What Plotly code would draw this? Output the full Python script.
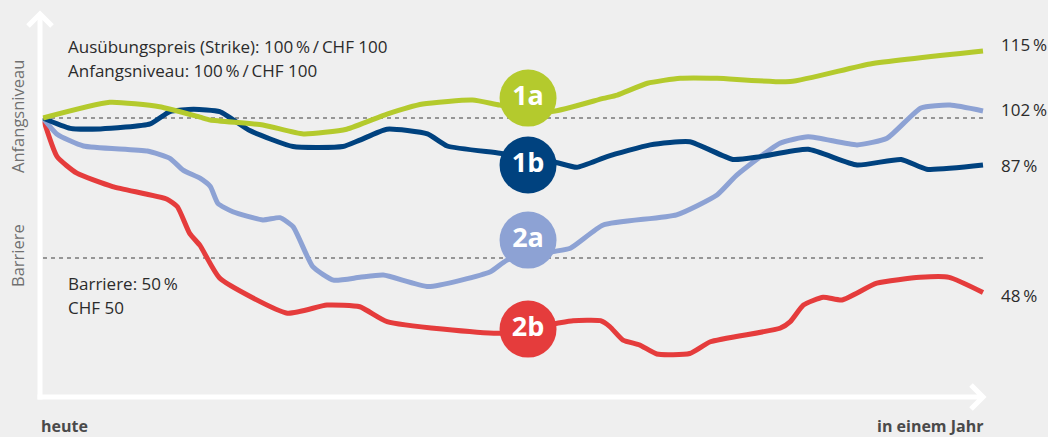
import plotly.graph_objects as go

# time in % of one year (0 = heute, 100 = in einem Jahr), level in % of Anfangsniveau (as drawn)
t_1a = [0, 7.1, 12.4, 16.7, 17.8, 23.4, 27.7, 32.3, 36.6, 40.4, 45.7, 48.6, 54.1, 59.6, 61.1, 64.3, 67.8, 71.7, 79.5, 88.0, 100]
v_1a = [100, 105.6, 104.0, 100.3, 99.3, 97.5, 94.3, 96.0, 101.4, 105.0, 106.4, 104.6, 102.3, 107.0, 108.2, 112.4, 114.2, 114.2, 113.0, 119.3, 123.9]

t_1b = [0, 2.9, 6.1, 11.4, 13.5, 16.0, 18.8, 22.0, 26.6, 31.9, 33.7, 36.6, 40.9, 43.0, 48.6, 54.3, 56.8, 60.0, 64.6, 68.8, 73.4, 76.3, 81.4, 86.6, 91.3, 94.0, 100]
v_1b = [100, 96.3, 96.1, 97.9, 102.3, 103.1, 102.3, 95.5, 89.8, 89.8, 92.1, 96.0, 94.3, 90.0, 87.4, 84.4, 82.4, 86.2, 90.4, 91.5, 85.2, 86.2, 88.8, 83.2, 85.2, 81.7, 83.2]

t_2a = [0, 1.5, 4.3, 11.1, 13.5, 14.9, 16.7, 17.8, 18.6, 20.2, 23.4, 25.2, 26.6, 28.7, 30.9, 33.7, 36.2, 41.0, 47.6, 49.4, 54.3, 56.1, 59.6, 67.4, 71.7, 73.8, 78.4, 81.4, 86.6, 89.8, 93.4, 96.5, 100]
v_2a = [100, 94.2, 90.0, 88.2, 85.6, 81.4, 78.5, 75.5, 69.5, 66.5, 63.6, 64.4, 61.2, 46.9, 42.1, 43.1, 43.9, 39.8, 45.1, 49.3, 52.3, 53.5, 61.8, 65.4, 72.5, 79.6, 91.0, 93.3, 90.4, 92.8, 103.6, 104.6, 102.5]

t_2b = [0, 1.5, 3.6, 7.4, 13.2, 14.3, 15.6, 16.7, 18.8, 26.0, 30.2, 33.7, 36.6, 48.6, 54.7, 56.4, 59.3, 60.3, 61.7, 63.5, 65.3, 68.8, 71.0, 78.4, 79.5, 80.9, 83.0, 85.0, 88.7, 93.3, 96.4, 100]
v_2b = [100, 86.2, 80.3, 75.5, 71.0, 68.3, 58.8, 54.5, 42.8, 30.3, 33.2, 32.6, 27.3, 23.1, 26.7, 27.6, 27.6, 25.5, 20.7, 18.9, 15.7, 15.9, 20.1, 24.9, 27.3, 33.2, 36.0, 35.0, 41.0, 43.1, 43.1, 37.7]

series_names = ["1a", "1b", "2a", "2b"]
end_labels = ["115 %", "87 %", "102 %", "48 %"]
strike_level = 100
barrier_level = 50

# label badges (position on the chart)
badge_t = [51.6, 51.6, 51.6, 51.6]
badge_v = [107.1, 83.2, 56.4, 24.6]

colors = {"1a": "#b4ca2d", "1b": "#00427f", "2a": "#8da2d4", "2b": "#e53c3c"}
BG = "#efefef"
FONT = "Open Sans, Noto Sans, sans-serif"

W, H = 1048, 437
ML, MR, MT, MB = 40, 58, 10, 39
PW, PH = W - ML - MR, H - MT - MB
X0PX, PXT = 43, 9.4      # px of t=0, px per unit t
PXV = 2.8               # px per unit level
xr0 = -(X0PX - ML) / PXT
xr = [xr0, xr0 + PW / PXT]
yr = [0, PH / PXV]

def px(x):
    return (x - ML) / PW

def py(y):
    return (H - MB - y) / PH

fig = go.Figure()

data = {"1a": (t_1a, v_1a), "1b": (t_1b, v_1b), "2a": (t_2a, v_2a), "2b": (t_2b, v_2b)}
for name in ["2b", "2a", "1b", "1a"]:
    t, v = data[name]
    fig.add_trace(go.Scatter(x=t, y=v, mode="lines",
                             line=dict(color=colors[name], width=5, shape="spline", smoothing=0.5),
                             hoverinfo="skip", showlegend=False))

fig.add_trace(go.Scatter(x=badge_t, y=badge_v, mode="markers+text",
                         marker=dict(size=57, color=[colors[n] for n in series_names], line=dict(width=0)),
                         text=series_names, textposition="middle center",
                         textfont=dict(family=FONT, size=27, color="white", weight="bold"),
                         hoverinfo="skip", showlegend=False))

shapes = []
# dashed reference lines
for lvl in [strike_level, barrier_level]:
    shapes.append(dict(type="line", xref="paper", yref="y", x0=px(43), x1=px(987), y0=lvl, y1=lvl,
                       line=dict(color="#7a7a7a", width=1.3, dash="4px,4px"), layer="below"))
# axes with arrows
wcol = "white"
shapes += [
    dict(type="line", xref="paper", yref="paper", x0=px(40), x1=px(40), y0=py(399.5), y1=py(14), line=dict(color=wcol, width=5)),
    dict(type="path", xref="paper", yref="paper",
         path=f"M {px(28)},{py(26)} L {px(40)},{py(14)} L {px(52)},{py(26)}",
         line=dict(color=wcol, width=5)),
    dict(type="line", xref="paper", yref="paper", x0=px(37.5), x1=px(983), y0=py(397), y1=py(397), line=dict(color=wcol, width=5)),
    dict(type="path", xref="paper", yref="paper",
         path=f"M {px(971)},{py(385)} L {px(983)},{py(397)} L {px(971)},{py(409)}",
         line=dict(color=wcol, width=5)),
]

tc = "#2b2b2b"
ann = []
def text(x, y, s, size=17, color=tc, xanchor="left", bold=False, angle=0):
    ann.append(dict(xref="paper", yref="paper", x=px(x), y=py(y), text=s, showarrow=False,
                    xanchor=xanchor, yanchor="middle", textangle=angle,
                    font=dict(family=FONT, size=size, color=color, weight="bold" if bold else "normal")))

text(66, 46, "Ausübungspreis (Strike): 100\u2009%\u2009/\u2009CHF 100")
text(66, 70, "Anfangsniveau: 100\u2009%\u2009/\u2009CHF 100")
text(66, 283, "Barriere: 50\u2009%")
text(66, 307, "CHF 50")
text(17, 117, "Anfangsniveau", size=16.5, color="#707070", xanchor="center", angle=-90)
text(17, 256, "Barriere", size=16.5, color="#707070", xanchor="center", angle=-90)
text(39, 426, "heute", size=16, color="#4a4a4a", bold=True)
text(985, 426, "in einem Jahr", size=16, color="#4a4a4a", xanchor="right", bold=True)
for s, y in zip(end_labels, [44, 165, 110, 295]):
    text(999, y, s.replace(" ", "\u2009"))

fig.update_layout(
    width=W, height=H, autosize=False,
    margin=dict(l=ML, r=MR, t=MT, b=MB),
    paper_bgcolor=BG, plot_bgcolor=BG,
    xaxis=dict(range=xr, visible=False, fixedrange=True),
    yaxis=dict(range=yr, visible=False, fixedrange=True),
    shapes=shapes, annotations=ann, showlegend=False, hovermode=False,
)

fig.write_html("out.html", config={"displayModeBar": False},
               post_script="document.body.style.margin='0';document.body.style.overflow='hidden';document.body.style.background='" + BG + "';")
